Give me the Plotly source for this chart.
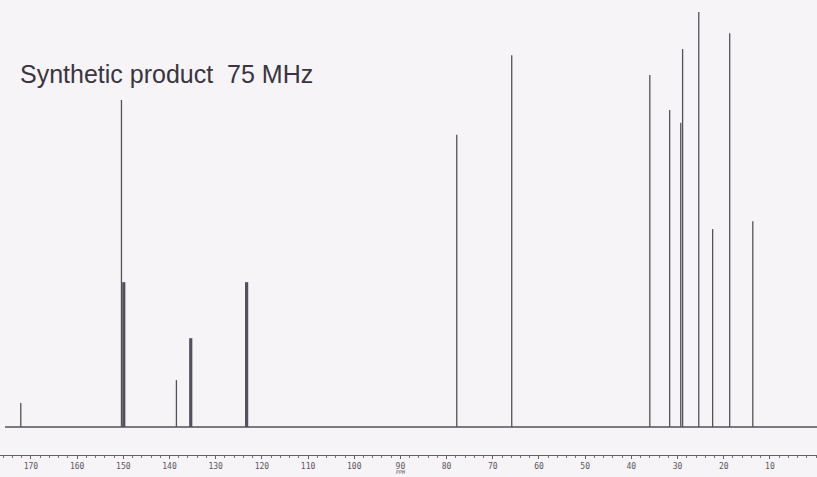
import plotly.graph_objects as go

# Peak list (ppm, relative intensity)
sharp_ppm = [172.2, 150.4, 138.5, 77.8, 65.9, 36.0, 31.7, 29.3, 28.9, 25.4, 22.4, 18.7, 13.7]
sharp_int = [5.8, 78.8, 11.3, 70.4, 89.6, 84.8, 76.4, 73.3, 91.1, 100.0, 47.7, 94.9, 49.6]
broad_ppm = [149.9, 135.4, 123.3]
broad_int = [34.9, 21.4, 34.9]
spectrum_limits = [175.6, -0.2]
tick_values = list(range(170, 0, -10))
tick_labels = [str(v) for v in tick_values]

ink = "#55505c"

def sticks(ppm, inten):
    xs, ys = [], []
    for p, h in zip(ppm, inten):
        xs += [p, p, None]
        ys += [0, h, None]
    return xs, ys

fig = go.Figure()
fig.add_trace(go.Scatter(x=spectrum_limits, y=[0, 0], mode="lines",
                         line=dict(color=ink, width=1.6), hoverinfo="skip"))
bx, by = sticks(broad_ppm, broad_int)
fig.add_trace(go.Scatter(x=bx, y=by, mode="lines",
                         line=dict(color=ink, width=3.2), hoverinfo="skip"))
sx, sy = sticks(sharp_ppm, sharp_int)
fig.add_trace(go.Scatter(x=sx, y=sy, mode="lines",
                         line=dict(color=ink, width=1.3), hoverinfo="skip"))

fig.update_layout(
    width=817, height=477,
    margin=dict(l=0, r=0, t=0, b=22),
    paper_bgcolor="#f6f4f6", plot_bgcolor="#f6f4f6",
    showlegend=False,
    xaxis=dict(range=[176.7, -0.2], showgrid=False, zeroline=False,
               showline=True, linecolor="#666066", linewidth=1,
               tickmode="array", tickvals=tick_values, ticktext=tick_labels,
               ticks="outside", ticklen=3, tickcolor="#666066",
               tickfont=dict(family="DejaVu Sans Mono", size=8, color="#5a5560"),
               minor=dict(dtick=2, ticks="outside", ticklen=2, tickcolor="#777077")),
    yaxis=dict(range=[-6.75, 102.9], visible=False),
    annotations=[
        dict(text="Synthetic product\u00a0\u00a075 MHz", xref="paper", yref="paper",
             x=18/817, y=1 - 74/455, xanchor="left", yanchor="middle", showarrow=False,
             font=dict(family="Liberation Sans", size=25, color="#3a3540")),
        dict(text="PPM", xref="x", yref="paper", x=90, y=-17/455, xanchor="center",
             yanchor="middle", showarrow=False,
             font=dict(family="DejaVu Sans Mono", size=5, color="#5a5560")),
    ],
)

fig.write_html("out.html")
